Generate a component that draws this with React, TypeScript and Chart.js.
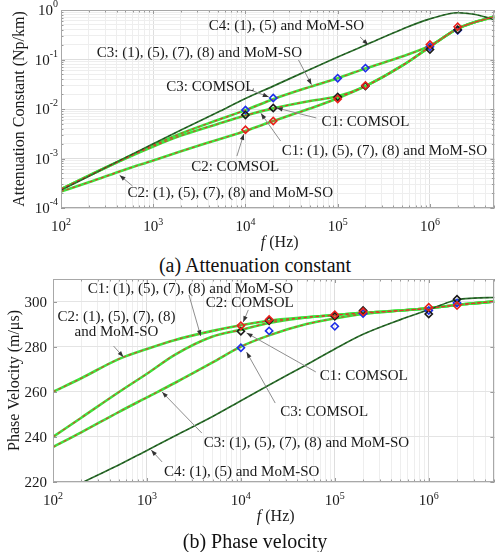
import React, { useEffect, useRef } from "react";
import { Chart, registerables } from "chart.js";
Chart.register(...registerables);

const SERIF = '"Liberation Serif", "Times New Roman", Times, serif';

// ---------- data ----------
// frequency samples of the model curves (Hz)
const freq = [1e2, 2e2, 5e2, 1e3, 2e3, 5e3, 1e4, 2e4, 5e4, 1e5, 2e5, 5e5, 1e6, 2e6, 3e6, 5e6];
// COMSOL frequencies (Hz)
const comsolFreq = [1e4, 2e4, 1e5, 2e5, 1e6, 2e6];

// (a) attenuation constant (Np/km)
const attC1 = [2.4e-4, 4.5e-4, 1.0e-3, 1.75e-3, 2.9e-3, 5.0e-3, 0.0074, 0.0103, 0.0145, 0.018, 0.029, 0.075, 0.18, 0.42, 0.56, 0.73];
const attC2 = [2.15e-4, 3.3e-4, 6.0e-4, 9.1e-4, 1.4e-3, 2.4e-3, 0.0036, 0.0057, 0.0102, 0.0165, 0.029, 0.075, 0.18, 0.42, 0.56, 0.73];
const attC3 = [2.4e-4, 4.5e-4, 1.02e-3, 1.85e-3, 3.2e-3, 6.0e-3, 0.0095, 0.0158, 0.028, 0.042, 0.066, 0.115, 0.19, 0.42, 0.56, 0.73];
const attC4 = [2.3e-4, 4.4e-4, 1.04e-3, 1.98e-3, 3.75e-3, 8.6e-3, 0.0163, 0.029, 0.063, 0.112, 0.196, 0.41, 0.66, 0.88, 0.82, 0.64];
const attComsolC1 = [0.0076, 0.0105, 0.0175, 0.029, 0.16, 0.40];
const attComsolC2 = [0.0038, 0.0057, 0.016, 0.030, 0.20, 0.46];
const attComsolC3 = [0.0095, 0.0167, 0.042, 0.067, 0.18, 0.39];

// (b) phase velocity (m/us)
const velC1 = [240, 248.5, 259.8, 268, 276.5, 284.5, 287.5, 290.5, 293, 294, 295, 296, 297, 298.5, 299.2, 300];
const velC2 = [260, 266, 274.5, 279, 283, 287, 289.5, 291.5, 293, 294, 295, 296, 297, 298.5, 299.2, 300];
const velC3 = [235.5, 242, 251, 257.5, 264, 273, 280, 285, 290, 292.5, 294.5, 296, 297, 298.5, 299.2, 300];
const velC4 = [212.5, 219.5, 227.5, 234, 240.5, 249, 256, 263, 272, 279, 285.5, 292, 296.4, 300.8, 301.5, 301.8];
const velComsolC1 = [286.8, 291.5, 293.5, 296, 294.5, 301];
const velComsolC2 = [289.3, 292, 294.2, 295.5, 297.5, 298.2];
const velComsolC3 = [279.5, 287, 289, 294.7, 296, 299.4];

// tick labels
const freqTickExps = [2, 3, 4, 5, 6];
const attTickExps = [-4, -3, -2, -1, 0];
const velTicks = [220, 240, 260, 280, 300];

type Note = { lines: string[]; x: number; y: number; align: CanvasTextAlign; from: [number, number]; to: [number, number] };

// annotation text anchors and arrows, in data coordinates
const attNotes: Note[] = [
  { lines: ["C4: (1), (5) and MoM-SO"], x: 4.0e3, y: 0.475, align: "left", from: [1.75e5, 0.285], to: [2.14e5, 0.196] },
  { lines: ["C3: (1), (5), (7), (8) and MoM-SO"], x: 244, y: 0.135, align: "left", from: [3.76e4, 0.0977], to: [5.2e4, 0.031] },
  { lines: ["C3: COMSOL"], x: 1388, y: 0.0278, align: "left", from: [1.06e4, 0.0254], to: [1.79e4, 0.0175] },
  { lines: ["C1: COMSOL"], x: 6.66e4, y: 0.00546, align: "left", from: [5.87e4, 0.00658], to: [2.18e4, 0.0105] },
  { lines: ["C2: COMSOL"], x: 2580, y: 6.7e-4, align: "left", from: [8070, 0.00112], to: [9.6e3, 0.00313] },
  { lines: ["C1: (1), (5), (7), (8) and MoM-SO"], x: 2.47e4, y: 0.00142, align: "left", from: [2.4e4, 0.00226], to: [1.47e4, 0.0082] },
  { lines: ["C2: (1), (5), (7), (8) and MoM-SO"], x: 527, y: 2.01e-4, align: "left", from: [597, 2.78e-4], to: [432, 4.6e-4] },
];
const velNotes: Note[] = [
  { lines: ["C1: (1), (5), (7), (8) and MoM-SO"], x: 234, y: 305.6, align: "left", from: [2.8e3, 302.9], to: [3.74e3, 284.7] },
  { lines: ["C2: COMSOL"], x: 4.23e3, y: 299.4, align: "left", from: [1.2e4, 296.3], to: [1.06e4, 290.9] },
  { lines: ["C2: (1), (5), (7), (8)", "and MoM-SO"], x: 474, y: 293.2, align: "center", from: [441, 280.3], to: [562, 275.4] },
  { lines: ["C1: COMSOL"], x: 6.92e4, y: 267, align: "left", from: [6.28e4, 268.8], to: [1.15e4, 286.1] },
  { lines: ["C3: COMSOL"], x: 2.62e4, y: 251, align: "left", from: [2.32e4, 255], to: [1.15e4, 277.6] },
  { lines: ["C3: (1), (5), (7), (8) and MoM-SO"], x: 4.03e3, y: 237.3, align: "left", from: [3.84e3, 241.7], to: [1.45e3, 259.9] },
  { lines: ["C4: (1), (5) and MoM-SO"], x: 1.52e3, y: 224.4, align: "left", from: [1.45e3, 228.9], to: [1.11e3, 234.2] },
];

// ---------- helpers ----------
function logGrid(loExp: number, hiExp: number, max: number) {
  const out: { value: number; major: boolean }[] = [];
  for (let e = loExp; e <= hiExp; e++) {
    for (let m = 1; m <= 9; m++) {
      const v = m * Math.pow(10, e);
      if (v <= max * 1.0000001) out.push({ value: v, major: m === 1 });
    }
  }
  return out;
}

function modelSets(values: number[], c4: boolean) {
  const pts = freq.map((f, i) => ({ x: f, y: values[i] }));
  const common = { pointRadius: 0, fill: false, cubicInterpolationMode: "monotone" as const };
  if (c4) {
    return [
      { ...common, data: pts, borderColor: "#2f762f", borderWidth: 1.7, order: 3 },
      { ...common, data: pts, borderColor: "#1b3a1b", borderWidth: 0.8, borderDash: [3, 3], order: 2 },
    ];
  }
  return [
    { ...common, data: pts, borderColor: "#3de43d", borderWidth: 2.6, order: 3 },
    { ...common, data: pts, borderColor: "#e0382c", borderWidth: 1.1, borderDash: [3, 3], order: 2 },
  ];
}

function markerSet(values: number[], color: string) {
  return {
    data: comsolFreq.map((f, i) => ({ x: f, y: values[i] })),
    showLine: false,
    pointStyle: "rectRot",
    pointRadius: 3.6,
    pointBorderWidth: 1.6,
    pointBorderColor: color,
    pointBackgroundColor: "rgba(255,255,255,0)",
    borderColor: color,
    order: 0,
  };
}

function arrow(ctx: CanvasRenderingContext2D, x0: number, y0: number, x1: number, y1: number) {
  ctx.strokeStyle = "#8e8e8e";
  ctx.lineWidth = 1;
  ctx.beginPath();
  ctx.moveTo(x0, y0);
  ctx.lineTo(x1, y1);
  ctx.stroke();
  const a = Math.atan2(y1 - y0, x1 - x0);
  const L = 6, W = 2.2;
  ctx.fillStyle = "#333";
  ctx.beginPath();
  ctx.moveTo(x1, y1);
  ctx.lineTo(x1 - L * Math.cos(a) + W * Math.sin(a), y1 - L * Math.sin(a) - W * Math.cos(a));
  ctx.lineTo(x1 - L * Math.cos(a) - W * Math.sin(a), y1 - L * Math.sin(a) + W * Math.cos(a));
  ctx.closePath();
  ctx.fill();
}

type DecorCfg = {
  yLog: boolean;
  yTitle: string;
  yTitleX: number;
  yLabelGap: number;
  notes: Note[];
};

function makeDecor(cfg: DecorCfg) {
  return {
    id: "decor",
    afterDraw(chart: any) {
      const { ctx, chartArea: a, scales } = chart;
      const xs = scales.x, ys = scales.y;
      ctx.save();
      // inner tick marks
      ctx.strokeStyle = "#9a9a9a";
      ctx.lineWidth = 1;
      ctx.beginPath();
      for (const t of xs.ticks) {
        const px = Math.round(xs.getPixelForValue(t.value)) + 0.5;
        const len = t.major ? 4 : 2.5;
        ctx.moveTo(px, a.bottom); ctx.lineTo(px, a.bottom - len);
        ctx.moveTo(px, a.top); ctx.lineTo(px, a.top + len);
      }
      for (const t of ys.ticks) {
        const py = Math.round(ys.getPixelForValue(t.value)) + 0.5;
        const len = t.major ? 4 : 2.5;
        ctx.moveTo(a.left, py); ctx.lineTo(a.left + len, py);
        ctx.moveTo(a.right, py); ctx.lineTo(a.right - len, py);
      }
      ctx.stroke();
      // box
      ctx.strokeStyle = "#a8a8a8";
      ctx.strokeRect(Math.round(a.left) + 0.5, Math.round(a.top) + 0.5, Math.round(a.right - a.left) - 1, Math.round(a.bottom - a.top) - 1);

      ctx.fillStyle = "#1a1a1a";
      ctx.textBaseline = "alphabetic";
      // x tick labels 10^n
      for (const e of freqTickExps) {
        const px = xs.getPixelForValue(Math.pow(10, e));
        ctx.font = `15px ${SERIF}`;
        const w1 = ctx.measureText("10").width;
        ctx.font = `10px ${SERIF}`;
        const w2 = ctx.measureText(String(e)).width;
        const x0 = px - (w1 + w2) / 2;
        ctx.textAlign = "left";
        ctx.font = `15px ${SERIF}`;
        ctx.fillText("10", x0, a.bottom + 23);
        ctx.font = `10px ${SERIF}`;
        ctx.fillText(String(e), x0 + w1, a.bottom + 17);
      }
      // y tick labels
      const rx = a.left - cfg.yLabelGap;
      if (cfg.yLog) {
        for (const e of attTickExps) {
          const py = ys.getPixelForValue(Math.pow(10, e));
          ctx.font = `10px ${SERIF}`;
          const es = String(e);
          const w2 = ctx.measureText(es).width;
          ctx.textAlign = "right";
          ctx.fillText(es, rx, py - 3);
          ctx.font = `15px ${SERIF}`;
          ctx.fillText("10", rx - w2, py + 5);
        }
      } else {
        ctx.font = `15px ${SERIF}`;
        ctx.textAlign = "right";
        for (const v of velTicks) {
          const py = ys.getPixelForValue(v);
          ctx.fillText(String(v), rx, py + 5);
        }
      }
      // x title: f (Hz)
      {
        ctx.font = `italic 16px ${SERIF}`;
        const wf = ctx.measureText("f").width;
        ctx.font = `16px ${SERIF}`;
        const wr = ctx.measureText(" (Hz)").width;
        const cx = (a.left + a.right) / 2 + 2;
        const x0 = cx - (wf + wr) / 2;
        ctx.textAlign = "left";
        ctx.font = `italic 16px ${SERIF}`;
        ctx.fillText("f", x0, a.bottom + 39);
        ctx.font = `16px ${SERIF}`;
        ctx.fillText(" (Hz)", x0 + wf, a.bottom + 39);
      }
      // y title
      ctx.save();
      ctx.translate(cfg.yTitleX, (a.top + a.bottom) / 2);
      ctx.rotate(-Math.PI / 2);
      ctx.font = `16px ${SERIF}`;
      ctx.textAlign = "center";
      ctx.textBaseline = "middle";
      ctx.fillText(cfg.yTitle, 0, 0);
      ctx.restore();
      // annotations
      for (const n of cfg.notes) {
        arrow(ctx, xs.getPixelForValue(n.from[0]), ys.getPixelForValue(n.from[1]), xs.getPixelForValue(n.to[0]), ys.getPixelForValue(n.to[1]));
      }
      ctx.fillStyle = "#1a1a1a";
      ctx.font = `15px ${SERIF}`;
      ctx.textBaseline = "middle";
      for (const n of cfg.notes) {
        const px = xs.getPixelForValue(n.x);
        const py = ys.getPixelForValue(n.y);
        ctx.textAlign = n.align;
        n.lines.forEach((s, i) => ctx.fillText(s, px, py + i * 15));
      }
      ctx.restore();
    },
  };
}

function gridColor(ctx: any) {
  return ctx.tick && ctx.tick.major ? "#dedede" : "#eeeeee";
}

function buildConfig(kind: "att" | "vel", canvasH: number): any {
  const isAtt = kind === "att";
  const plotTop = isAtt ? 10 : 11;
  const plotBottom = isAtt ? 208 : 214;
  const yWidth = isAtt ? 61 : 53;
  const c1 = isAtt ? attC1 : velC1, c2 = isAtt ? attC2 : velC2, c3 = isAtt ? attC3 : velC3, c4 = isAtt ? attC4 : velC4;
  const m1 = isAtt ? attComsolC1 : velComsolC1, m2 = isAtt ? attComsolC2 : velComsolC2, m3 = isAtt ? attComsolC3 : velComsolC3;
  const datasets = [
    markerSet(m2, "#e8201c"),
    markerSet(m1, "#1a1a1a"),
    markerSet(m3, "#1f2fe8"),
    ...modelSets(c4, true),
    ...modelSets(c3, false),
    ...modelSets(c1, false),
    ...modelSets(c2, false),
  ];
  return {
    type: "line",
    data: { datasets },
    options: {
      animation: false,
      responsive: false,
      devicePixelRatio: 1,
      parsing: true,
      layout: { padding: { top: plotTop, right: isAtt ? 3 : 2, left: 0, bottom: 0 } },
      plugins: { legend: { display: false }, tooltip: { enabled: false }, title: { display: false } },
      scales: {
        x: {
          type: "logarithmic",
          min: 100,
          max: 5e6,
          afterBuildTicks: (s: any) => { s.ticks = logGrid(2, 6, 5e6); },
          afterFit: (s: any) => { s.height = canvasH - plotBottom; },
          ticks: { display: false },
          grid: { color: gridColor, drawTicks: false, lineWidth: 1 },
          border: { display: false },
        },
        y: isAtt
          ? {
              type: "logarithmic",
              min: 1e-4,
              max: 1,
              afterBuildTicks: (s: any) => { s.ticks = logGrid(-4, 0, 1); },
              afterFit: (s: any) => { s.width = yWidth; },
              ticks: { display: false },
              grid: { color: gridColor, drawTicks: false, lineWidth: 1 },
              border: { display: false },
            }
          : {
              type: "linear",
              min: 220,
              max: 310,
              afterBuildTicks: (s: any) => { s.ticks = velTicks.map((v) => ({ value: v, major: true })); },
              afterFit: (s: any) => { s.width = yWidth; },
              ticks: { display: false },
              grid: { color: "#e4e4e4", drawTicks: false, lineWidth: 1 },
              border: { display: false },
            },
      },
    },
    plugins: [
      makeDecor({
        yLog: isAtt,
        yTitle: isAtt ? "Attenuation Constant (Np/km)" : "Phase Velocity (m/\u03bcs)",
        yTitleX: isAtt ? 20 : 15,
        yLabelGap: isAtt ? 3 : 6,
        notes: isAtt ? attNotes : velNotes,
      }),
    ],
  };
}

function ChartCanvas({ kind, top, height }: { kind: "att" | "vel"; top: number; height: number }) {
  const ref = useRef<HTMLCanvasElement>(null);
  useEffect(() => {
    const chart = new Chart(ref.current as HTMLCanvasElement, buildConfig(kind, height));
    return () => chart.destroy();
  }, [kind, height]);
  return (
    <canvas
      ref={ref}
      width={500}
      height={height}
      style={{ position: "absolute", left: 0, top, width: 500, height }}
    />
  );
}

export default function App() {
  const caption: React.CSSProperties = {
    position: "absolute",
    left: 0,
    width: 510,
    textAlign: "center",
    fontFamily: SERIF,
    fontSize: 20,
    lineHeight: "24px",
    color: "#111",
    whiteSpace: "nowrap",
  };
  return (
    <div style={{ position: "absolute", left: 0, top: 0, width: 500, height: 552, background: "#fff", overflow: "hidden" }}>
      <ChartCanvas kind="att" top={0} height={252} />
      <div style={{ ...caption, top: 253 }}>(a) Attenuation constant</div>
      <ChartCanvas kind="vel" top={268} height={284} />
      <div style={{ ...caption, top: 529 }}>(b) Phase velocity</div>
    </div>
  );
}
